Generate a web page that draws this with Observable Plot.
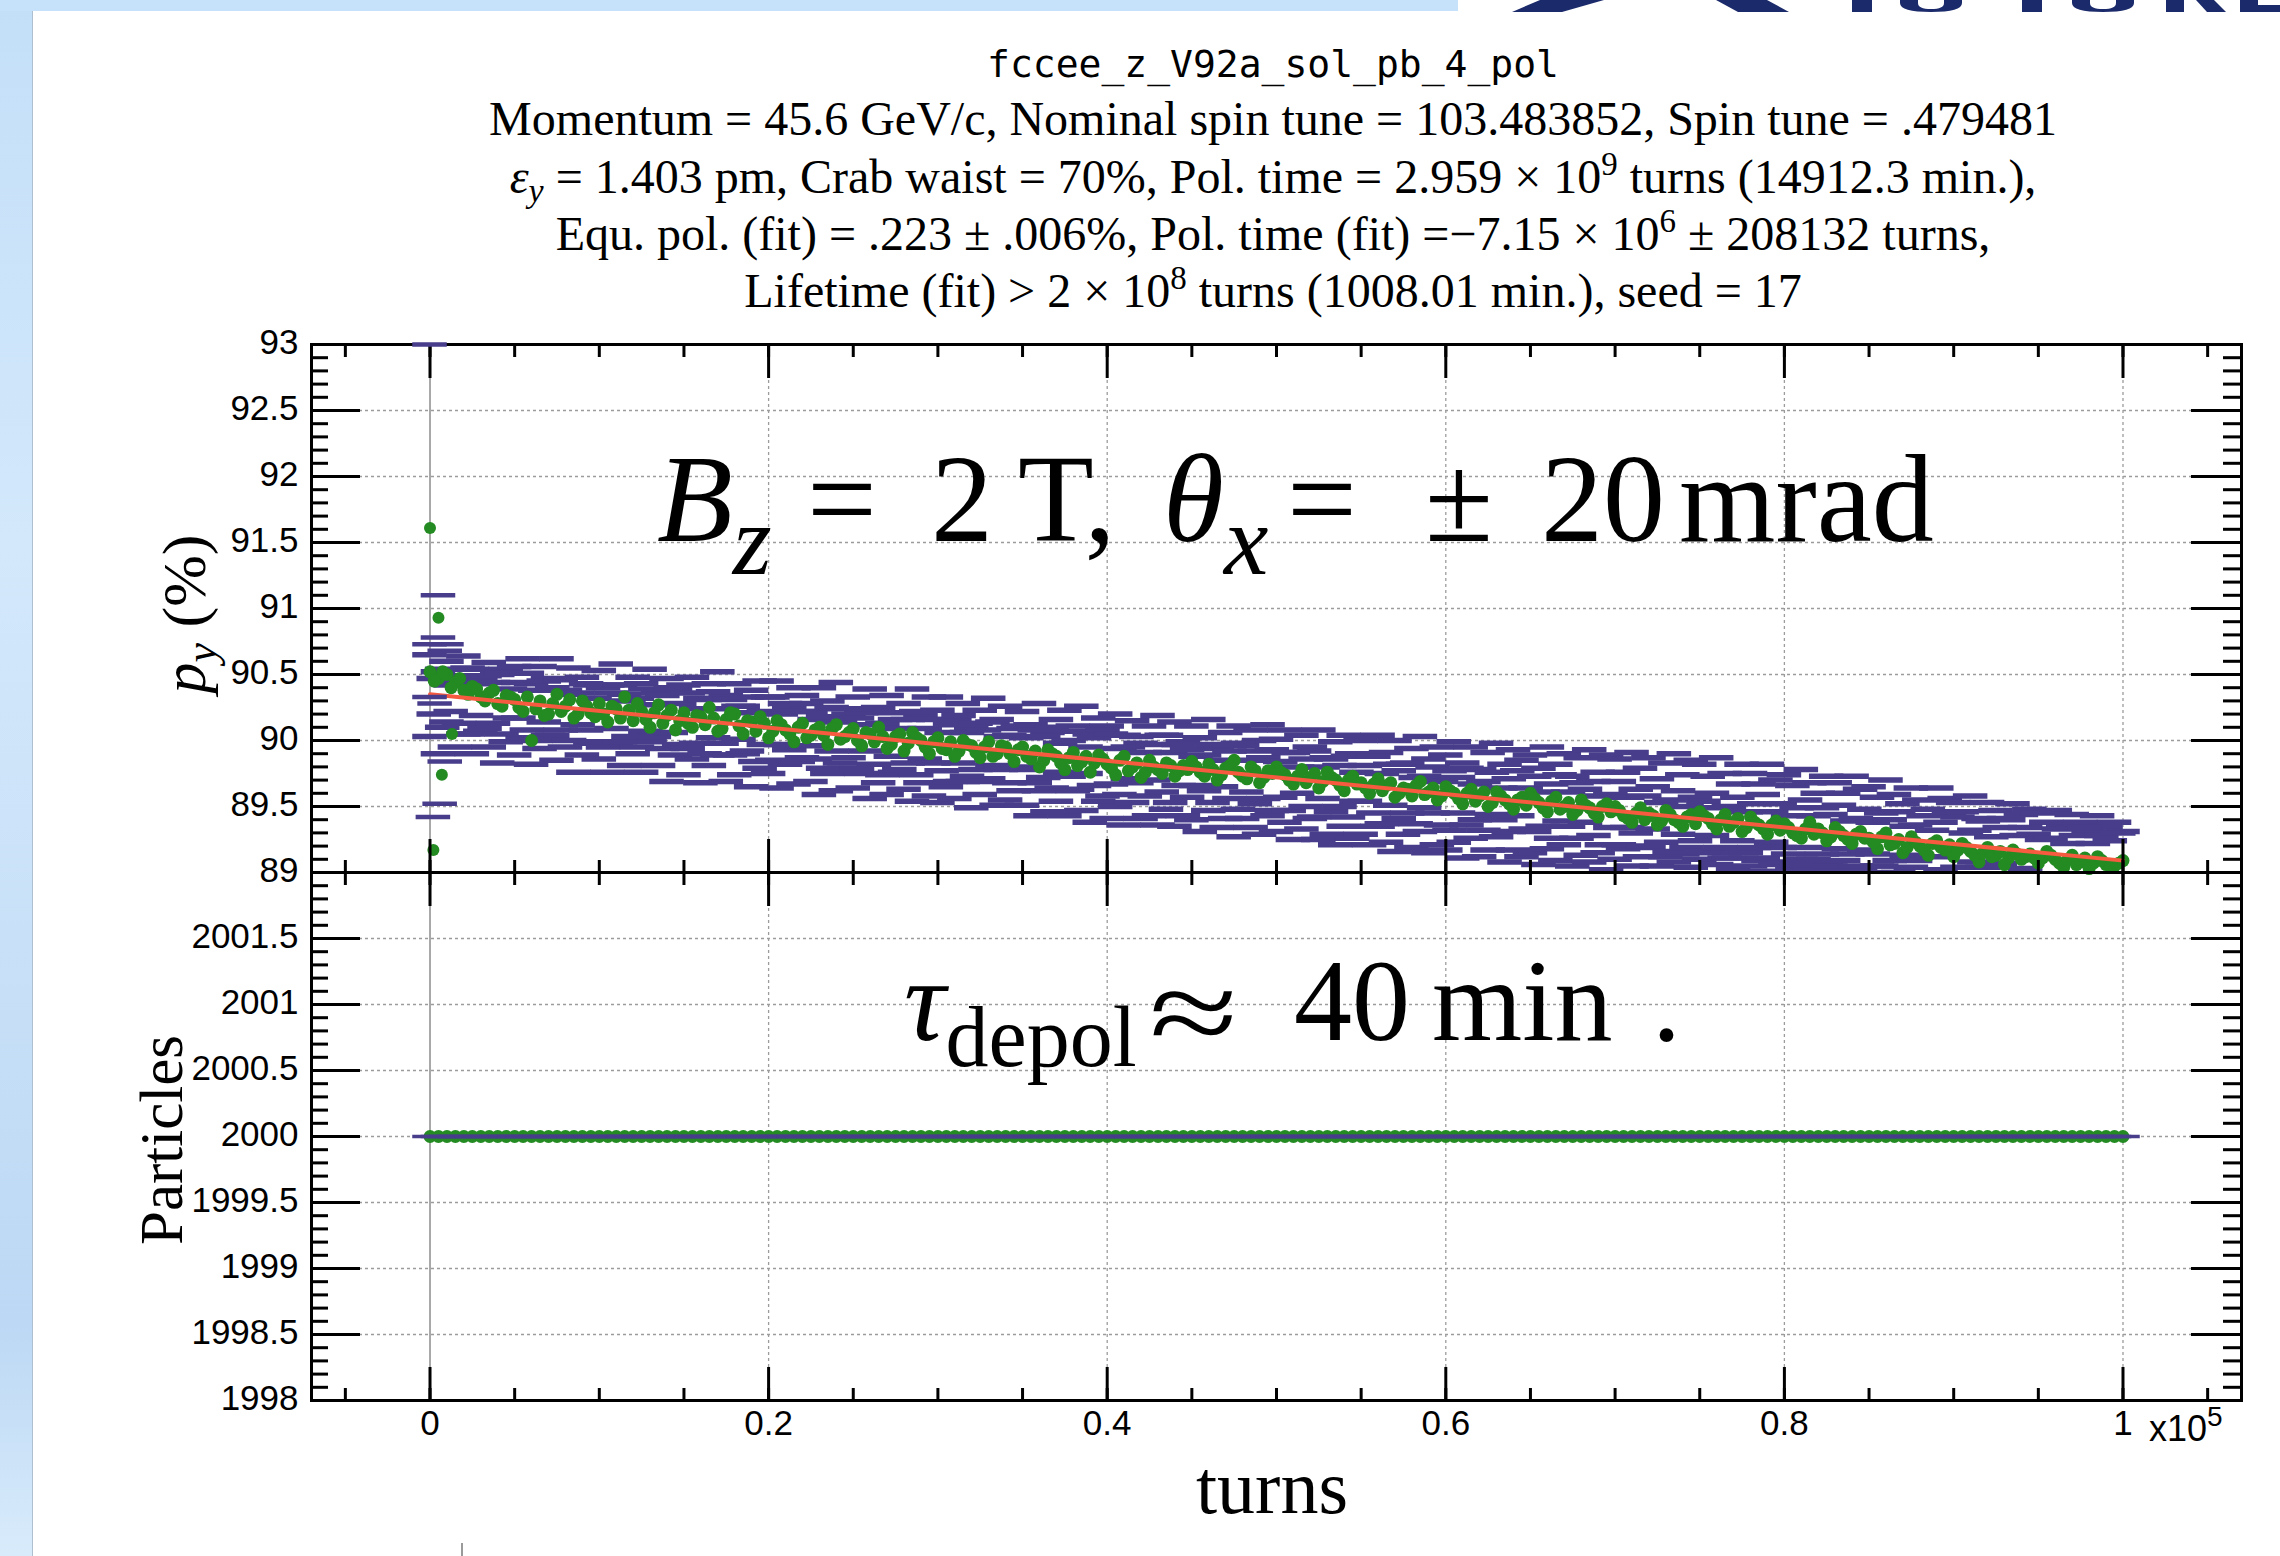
<!DOCTYPE html>
<html>
<head>
<meta charset="utf-8">
<script src="https://cdn.jsdelivr.net/npm/d3@7"></script>
<script src="https://cdn.jsdelivr.net/npm/@observablehq/plot@0.6"></script>
<style>
  html, body { margin: 0; padding: 0; background: #ffffff; }
  #page { position: relative; width: 2280px; height: 1556px; overflow: hidden; background: #ffffff; }
  #page > svg, #page > div { position: absolute; left: 0; top: 0; }
</style>
</head>
<body>
<div id="page">
  <div style="width:32px;height:1556px;background:linear-gradient(to bottom,#c3dff8 0%,#d3e8fb 35%,#c9e1f8 60%,#bcd8f4 85%,#d8ebfb 100%);border-right:1px solid #aebfd0;"></div>
  <div style="width:1458px;height:11px;background:#c6e2fb;"></div>
  <svg width="2280" height="16">
    <g fill="#1b2a6b">
      <polygon points="1540,0 1604,0 1562,12 1512,12"/>
      <polygon points="1716,0 1767,0 1789,12 1738,12"/>
      <rect x="1852" y="0" width="20" height="12"/>
      <path d="M1900,0 h18 v3 q0,6 13,6 q13,0 13,-6 v-3 h18 v3 q0,9 -31,9 q-31,0 -31,-9 z"/>
      <rect x="2022" y="0" width="20" height="12"/>
      <path d="M2072,0 h18 v3 q0,6 13,6 q13,0 13,-6 v-3 h18 v3 q0,9 -31,9 q-31,0 -31,-9 z"/>
      <rect x="2166" y="0" width="18" height="12"/>
      <polygon points="2196,0 2214,0 2226,12 2207,12"/>
      <rect x="2240" y="0" width="18" height="12"/>
      <rect x="2240" y="5" width="40" height="7"/>
    </g>
  </svg>
  <div style="left:461px;top:1543px;width:2px;height:13px;background:#9a9a9a;"></div>
</div>
<script>
// ---------------- data ----------------
const turns = [
  0,500,1000,1500,2000,2500,3000,3500,4000,4500,
  5000,5500,6000,6500,7000,7500,8000,8500,9000,9500,
  10000,10500,11000,11500,12000,12500,13000,13500,14000,14500,
  15000,15500,16000,16500,17000,17500,18000,18500,19000,19500,
  20000,20500,21000,21500,22000,22500,23000,23500,24000,24500,
  25000,25500,26000,26500,27000,27500,28000,28500,29000,29500,
  30000,30500,31000,31500,32000,32500,33000,33500,34000,34500,
  35000,35500,36000,36500,37000,37500,38000,38500,39000,39500,
  40000,40500,41000,41500,42000,42500,43000,43500,44000,44500,
  45000,45500,46000,46500,47000,47500,48000,48500,49000,49500,
  50000,50500,51000,51500,52000,52500,53000,53500,54000,54500,
  55000,55500,56000,56500,57000,57500,58000,58500,59000,59500,
  60000,60500,61000,61500,62000,62500,63000,63500,64000,64500,
  65000,65500,66000,66500,67000,67500,68000,68500,69000,69500,
  70000,70500,71000,71500,72000,72500,73000,73500,74000,74500,
  75000,75500,76000,76500,77000,77500,78000,78500,79000,79500,
  80000,80500,81000,81500,82000,82500,83000,83500,84000,84500,
  85000,85500,86000,86500,87000,87500,88000,88500,89000,89500,
  90000,90500,91000,91500,92000,92500,93000,93500,94000,94500,
  95000,95500,96000,96500,97000,97500,98000,98500,99000,99500,
  100000
];
const turnsHalf = [
  250,750,1250,1750,2250,2750,3250,3750,4250,4750,
  5250,5750,6250,6750,7250,7750,8250,8750,9250,9750,
  10250,10750,11250,11750,12250,12750,13250,13750,14250,14750,
  15250,15750,16250,16750,17250,17750,18250,18750,19250,19750,
  20250,20750,21250,21750,22250,22750,23250,23750,24250,24750,
  25250,25750,26250,26750,27250,27750,28250,28750,29250,29750,
  30250,30750,31250,31750,32250,32750,33250,33750,34250,34750,
  35250,35750,36250,36750,37250,37750,38250,38750,39250,39750,
  40250,40750,41250,41750,42250,42750,43250,43750,44250,44750,
  45250,45750,46250,46750,47250,47750,48250,48750,49250,49750,
  50250,50750,51250,51750,52250,52750,53250,53750,54250,54750,
  55250,55750,56250,56750,57250,57750,58250,58750,59250,59750,
  60250,60750,61250,61750,62250,62750,63250,63750,64250,64750,
  65250,65750,66250,66750,67250,67750,68250,68750,69250,69750,
  70250,70750,71250,71750,72250,72750,73250,73750,74250,74750,
  75250,75750,76250,76750,77250,77750,78250,78750,79250,79750,
  80250,80750,81250,81750,82250,82750,83250,83750,84250,84750,
  85250,85750,86250,86750,87250,87750,88250,88750,89250,89750,
  90250,90750,91250,91750,92250,92750,93250,93750,94250,94750,
  95250,95750,96250,96750,97250,97750,98250,98750,99250,99750
];

// polarization p_y (%) (green markers), at turns and at turnsHalf
const pyGreen = [
  90.52,90.47,90.50,90.44,90.38,90.41,90.33,90.36,90.28,90.34,
  90.31,90.22,90.00,90.30,90.20,90.35,90.26,90.17,90.30,90.21,
  90.28,90.14,90.24,90.33,90.15,90.22,90.10,90.27,90.19,90.08,
  90.21,90.10,90.18,90.25,90.07,90.16,90.20,90.05,90.14,90.18,
  90.02,90.15,90.08,89.99,90.13,90.04,90.10,89.97,90.12,90.03,
  90.09,89.96,90.05,90.10,89.94,90.03,89.92,90.06,90.00,89.90,
  90.02,89.93,89.88,90.00,89.96,89.87,89.99,89.90,89.95,89.84,
  89.95,89.86,89.80,89.93,89.88,89.78,89.91,89.84,89.76,89.89,
  89.82,89.74,89.88,89.80,89.72,89.85,89.78,89.83,89.73,89.81,
  89.84,89.76,89.82,89.70,89.79,89.85,89.73,89.80,89.68,89.77,
  89.80,89.74,89.67,89.78,89.72,89.64,89.76,89.70,89.62,89.73,
  89.68,89.60,89.71,89.66,89.57,89.64,89.58,89.69,89.61,89.55,
  89.65,89.60,89.52,89.63,89.58,89.50,89.61,89.55,89.48,89.57,
  89.60,89.53,89.46,89.57,89.50,89.44,89.55,89.49,89.42,89.52,
  89.50,89.43,89.38,89.49,89.45,89.36,89.47,89.40,89.35,89.44,
  89.46,89.41,89.33,89.44,89.38,89.31,89.42,89.36,89.29,89.39,
  89.37,89.30,89.26,89.38,89.33,89.24,89.34,89.28,89.22,89.31,
  89.26,89.18,89.30,89.22,89.15,89.27,89.20,89.13,89.24,89.17,
  89.12,89.22,89.16,89.08,89.19,89.13,89.06,89.17,89.10,89.14,
  89.07,89.16,89.10,89.04,89.13,89.08,89.03,89.12,89.06,89.05,
  89.09
];
const pyGreenHalf = [
  90.45,90.52,90.40,90.47,90.35,90.39,90.30,90.38,90.26,90.33,
  90.25,90.33,90.24,90.19,90.28,90.22,90.31,90.20,90.26,90.18,
  90.20,90.26,90.17,90.23,90.28,90.16,90.21,90.13,90.23,90.15,
  90.13,90.19,90.12,90.17,90.09,90.21,90.11,90.15,90.07,90.13,
  90.07,90.12,90.05,90.10,90.02,90.08,90.04,90.09,90.01,90.06,
  90.00,90.06,89.99,90.03,89.97,90.05,89.98,90.02,89.95,89.99,
  89.94,89.99,89.92,89.97,89.91,89.95,89.88,89.96,89.90,89.93,
  89.88,89.92,89.85,89.90,89.83,89.87,89.81,89.88,89.83,89.86,
  89.79,89.85,89.77,89.83,89.76,89.80,89.75,89.81,89.77,89.78,
  89.80,89.73,89.78,89.74,89.81,89.76,89.71,89.77,89.72,89.75,
  89.76,89.70,89.73,89.68,89.75,89.69,89.72,89.66,89.70,89.67,
  89.64,89.67,89.62,89.68,89.60,89.63,89.66,89.59,89.64,89.58,
  89.62,89.56,89.60,89.54,89.61,89.53,89.58,89.52,89.55,89.51,
  89.56,89.49,89.54,89.48,89.53,89.47,89.51,89.45,89.50,89.46,
  89.47,89.41,89.45,89.40,89.43,89.39,89.44,89.38,89.42,89.37,
  89.43,89.37,89.40,89.35,89.41,89.34,89.38,89.33,89.36,89.32,
  89.34,89.28,89.33,89.29,89.30,89.27,89.31,89.25,89.29,89.26,
  89.23,89.27,89.21,89.25,89.19,89.23,89.17,89.22,89.19,89.21,
  89.17,89.19,89.13,89.15,89.12,89.16,89.11,89.14,89.12,89.11,
  89.11,89.13,89.07,89.10,89.06,89.11,89.07,89.09,89.05,89.07
];

// error-bar caps (purple): upper and lower, at turns and at turnsHalf
const capUpper = [
  90.65,90.52,90.60,90.45,90.64,90.54,90.46,90.59,90.50,90.54,
  90.56,90.62,90.43,90.56,90.47,90.62,90.38,90.55,90.48,90.42,
  90.53,90.42,90.58,90.35,90.48,90.43,90.54,90.36,90.47,90.39,
  90.42,90.48,90.32,90.43,90.52,90.34,90.43,90.26,90.38,90.45,
  90.33,90.45,90.28,90.40,90.34,90.22,90.40,90.30,90.44,90.24,
  90.33,90.21,90.39,90.25,90.34,90.16,90.28,90.39,90.19,90.33,
  90.23,90.33,90.16,90.28,90.10,90.23,90.32,90.16,90.26,90.09,
  90.22,90.12,90.28,90.06,90.16,90.23,90.11,90.26,90.05,90.17,
  90.11,90.20,90.04,90.15,89.98,90.11,90.19,90.04,90.14,89.99,
  90.11,90.02,90.16,89.94,90.06,90.11,89.96,90.08,90.00,90.12,
  90.01,90.08,89.91,90.04,89.95,90.08,89.87,89.99,90.04,89.90,
  90.00,89.88,90.04,89.91,90.00,89.82,89.94,90.03,89.86,89.95,
  89.89,89.99,89.83,89.95,89.78,89.91,89.98,89.82,89.93,89.85,
  89.89,89.79,89.95,89.82,89.90,89.73,89.87,89.93,89.76,89.89,
  89.86,89.76,89.91,89.79,89.87,89.71,89.83,89.90,89.74,89.85,
  89.82,89.73,89.87,89.75,89.67,89.82,89.75,89.67,89.82,89.70,
  89.74,89.66,89.78,89.68,89.60,89.73,89.68,89.60,89.73,89.63,
  89.65,89.57,89.70,89.59,89.52,89.64,89.55,89.48,89.64,89.56,
  89.53,89.46,89.58,89.41,89.53,89.47,89.41,89.52,89.44,89.48,
  89.45,89.38,89.47,89.34,89.44,89.38,89.31,89.43,89.35,89.38,
  89.31
];
const capLower = [
  90.03,89.90,90.14,89.95,90.05,89.90,90.07,89.95,89.83,89.99,
  89.89,90.02,89.82,89.94,90.04,89.85,89.95,89.76,89.89,89.98,
  89.86,89.76,89.97,89.81,89.90,89.76,89.99,89.81,89.69,89.89,
  89.74,89.86,89.68,89.81,89.89,89.69,89.74,89.90,89.65,89.79,
  89.75,89.64,89.82,89.67,89.87,89.69,89.59,89.75,89.62,89.79,
  89.64,89.75,89.56,89.68,89.59,89.76,89.63,89.54,89.68,89.58,
  89.53,89.65,89.56,89.69,89.49,89.59,89.71,89.51,89.55,89.62,
  89.51,89.43,89.62,89.46,89.54,89.43,89.62,89.47,89.38,89.54,
  89.41,89.50,89.36,89.53,89.41,89.43,89.36,89.48,89.35,89.43,
  89.40,89.31,89.47,89.34,89.41,89.27,89.41,89.34,89.29,89.43,
  89.31,89.38,89.25,89.33,89.41,89.25,89.29,89.21,89.35,89.26,
  89.29,89.21,89.35,89.23,89.16,89.29,89.19,89.31,89.15,89.21,
  89.17,89.23,89.11,89.26,89.12,89.17,89.27,89.08,89.17,89.12,
  89.15,89.06,89.18,89.09,89.21,89.05,89.13,89.08,89.15,89.02,
  89.10,89.18,89.05,89.12,89.19,89.05,89.12,89.08,89.14,89.04,
  89.10,89.15,89.06,89.11,89.02,89.15,89.05,89.09,89.01,89.06,
  89.08,89.02,89.10,89.03,88.98,89.06,89.02,89.09,88.98,89.03,
  88.99,89.05,88.95,89.00,88.91,89.04,88.94,88.99,88.89,88.94,
  88.95,88.88,88.97,88.89,88.91,88.83,88.92,88.85,88.88,88.91,
  88.87,88.81,88.88,88.83,88.86,88.79,88.84,88.76,88.81,88.78,
  88.82
];
const capUpperHalf = [
  90.47,90.54,90.42,90.49,90.55,90.43,90.49,90.44,90.51,90.39,
  90.44,90.51,90.38,90.45,90.40,90.46,90.35,90.36,90.43,90.32,
  90.40,90.36,90.42,90.30,90.32,90.39,90.27,90.34,90.40,90.28,
  90.36,90.24,90.31,90.37,90.24,90.31,90.26,90.33,90.21,90.22,
  90.33,90.20,90.26,90.22,90.28,90.16,90.18,90.25,90.14,90.20,
  90.17,90.24,90.12,90.13,90.21,90.09,90.16,90.22,90.09,90.16,
  90.06,90.12,90.19,90.06,90.13,90.08,90.14,90.03,90.04,90.11,
  90.02,90.08,90.03,90.10,89.98,90.00,90.07,89.95,90.02,90.08,
  90.05,89.94,89.95,90.03,89.91,89.97,90.04,89.91,89.97,89.93,
  89.88,89.89,89.97,89.85,89.92,89.98,89.85,89.92,89.87,89.93,
  89.84,89.91,89.80,89.86,89.92,89.80,89.86,89.81,89.88,89.76,
  89.81,89.88,89.75,89.82,89.77,89.83,89.72,89.73,89.80,89.69,
  89.77,89.72,89.79,89.67,89.69,89.76,89.64,89.71,89.77,89.64,
  89.73,89.61,89.67,89.74,89.61,89.68,89.63,89.69,89.58,89.59,
  89.69,89.57,89.63,89.58,89.65,89.53,89.55,89.62,89.50,89.57,
  89.54,89.60,89.49,89.50,89.57,89.46,89.52,89.59,89.46,89.52,
  89.43,89.49,89.55,89.43,89.49,89.44,89.51,89.39,89.41,89.48,
  89.38,89.45,89.40,89.46,89.35,89.36,89.43,89.32,89.38,89.45,
  89.42,89.30,89.32,89.39,89.27,89.34,89.40,89.28,89.34,89.29,
  89.25,89.26,89.33,89.22,89.28,89.34,89.22,89.28,89.24,89.30
];
const capLowerHalf = [
  90.20,90.10,90.22,90.13,90.05,90.19,90.09,90.13,90.05,90.17,
  90.17,90.08,90.00,90.14,90.04,90.08,90.00,90.12,90.08,89.99,
  89.95,90.09,89.99,90.03,89.95,90.07,90.03,89.94,90.06,89.97,
  89.94,89.98,89.90,90.02,89.98,89.89,90.01,89.92,89.84,89.97,
  89.85,89.97,89.93,89.84,89.96,89.86,89.79,89.92,89.83,89.87,
  89.79,89.92,89.82,89.74,89.88,89.78,89.83,89.74,89.86,89.83,
  89.77,89.69,89.83,89.73,89.78,89.69,89.81,89.78,89.68,89.80,
  89.78,89.68,89.72,89.64,89.76,89.73,89.63,89.75,89.66,89.58,
  89.67,89.59,89.71,89.68,89.58,89.70,89.61,89.53,89.66,89.57,
  89.66,89.62,89.53,89.65,89.56,89.48,89.61,89.52,89.56,89.47,
  89.57,89.47,89.60,89.50,89.42,89.56,89.46,89.50,89.42,89.54,
  89.54,89.45,89.37,89.51,89.41,89.45,89.37,89.49,89.45,89.36,
  89.32,89.45,89.36,89.40,89.32,89.44,89.40,89.31,89.43,89.33,
  89.31,89.35,89.26,89.39,89.35,89.26,89.38,89.28,89.21,89.34,
  89.21,89.34,89.30,89.20,89.33,89.23,89.16,89.29,89.19,89.24,
  89.16,89.28,89.19,89.11,89.24,89.15,89.19,89.11,89.23,89.19,
  89.14,89.06,89.19,89.10,89.14,89.05,89.18,89.14,89.05,89.17,
  89.14,89.05,89.09,89.00,89.13,89.09,88.99,89.12,89.02,88.95,
  89.04,88.95,89.08,89.04,88.94,89.07,88.97,88.90,89.03,88.93,
  88.96,88.93,88.89,88.95,88.92,88.84,88.91,88.88,88.93,88.84
];

// particle count (bottom panel)
const particles = [
  2000,2000,2000,2000,2000,2000,2000,2000,2000,2000,
  2000,2000,2000,2000,2000,2000,2000,2000,2000,2000,
  2000,2000,2000,2000,2000,2000,2000,2000,2000,2000,
  2000,2000,2000,2000,2000,2000,2000,2000,2000,2000,
  2000,2000,2000,2000,2000,2000,2000,2000,2000,2000,
  2000,2000,2000,2000,2000,2000,2000,2000,2000,2000,
  2000,2000,2000,2000,2000,2000,2000,2000,2000,2000,
  2000,2000,2000,2000,2000,2000,2000,2000,2000,2000,
  2000,2000,2000,2000,2000,2000,2000,2000,2000,2000,
  2000,2000,2000,2000,2000,2000,2000,2000,2000,2000,
  2000,2000,2000,2000,2000,2000,2000,2000,2000,2000,
  2000,2000,2000,2000,2000,2000,2000,2000,2000,2000,
  2000,2000,2000,2000,2000,2000,2000,2000,2000,2000,
  2000,2000,2000,2000,2000,2000,2000,2000,2000,2000,
  2000,2000,2000,2000,2000,2000,2000,2000,2000,2000,
  2000,2000,2000,2000,2000,2000,2000,2000,2000,2000,
  2000,2000,2000,2000,2000,2000,2000,2000,2000,2000,
  2000,2000,2000,2000,2000,2000,2000,2000,2000,2000,
  2000,2000,2000,2000,2000,2000,2000,2000,2000,2000,
  2000,2000,2000,2000,2000,2000,2000,2000,2000,2000,
  2000
];

// scattered first samples
const earlyTurns = [0, 200, 500, 700, 1300];
const earlyPy = [91.61, 89.17, 90.93, 89.74, 90.05];
const earlyCapTurns = [0, 500, 500, 0, 1000, 900, 0, 300, 900, 600, 200];
const earlyCapPy = [93.0, 91.10, 90.78, 90.73, 90.73, 90.68, 90.33, 90.28, 89.84, 89.52, 89.42];

// fit curve
const fitTurns = [0, 100000];
const fitPy = [90.35, 89.09];

// axis ticks / labels
const xMajorTicks = [0, 20000, 40000, 60000, 80000, 100000];
const xGridTicks = [20000, 40000, 60000, 80000, 100000];
const pyTicks = [89, 89.5, 90, 90.5, 91, 91.5, 92, 92.5, 93];
const pyGridTicks = [89.5, 90, 90.5, 91, 91.5, 92, 92.5];
const nTicks = [1998, 1998.5, 1999, 1999.5, 2000, 2000.5, 2001, 2001.5, 2002];
const nTickLabels = [1998, 1998.5, 1999, 1999.5, 2000, 2000.5, 2001, 2001.5];
const nGridTicks = [1998.5, 1999, 1999.5, 2000, 2000.5, 2001, 2001.5];

// texts
const titleName = "fccee_z_V92a_sol_pb_4_pol";
const titleLine2 = "Momentum = 45.6 GeV/c, Nominal spin tune = 103.483852, Spin tune = .479481";
const titleLine3a = " = 1.403 pm, Crab waist = 70%, Pol. time = 2.959 × 10";
const titleLine3b = " turns (14912.3 min.),";
const titleLine4a = "Equ. pol. (fit) = .223 ± .006%, Pol. time (fit) =−7.15 × 10";
const titleLine4b = " ± 208132 turns,";
const titleLine5a = "Lifetime (fit) > 2 × 10";
const titleLine5b = " turns (1008.01 min.), seed = 17";

// ---------------- styling / layout ----------------
const W = 2280, H = 1556;
const FL = 311, FR = 2241, FW = FR - FL;
const TOP_Y0 = 344, MID_Y = 872, BOT_Y1 = 1400, PH = 528;
const GREEN = "#238b22", PURPLE = "#473d8a", RED = "#f65a3f", GRID = "#9c9c9c";
const SERIF = "'Liberation Serif', 'Times New Roman', serif";
const SANS = "'Liberation Sans', Arial, Helvetica, sans-serif";
const MONO = "'DejaVu Sans Mono', monospace";
const CAP = 1020; // half width of error-bar caps, in turns

const xMinorTicks = d3.range(-5000, 105001, 5000);
const pyMinor = d3.range(0, 41).map(i => 89 + i / 10);
const nMinor = d3.range(0, 41).map(i => 1998 + i / 10);

function gridMarks(yGrid) {
  return [
    Plot.ruleY(yGrid, {stroke: GRID, strokeWidth: 1.3, strokeDasharray: "3,3"}),
    Plot.ruleX(xGridTicks, {stroke: GRID, strokeWidth: 1.3, strokeDasharray: "3,3"}),
    Plot.ruleX([0], {stroke: "#8c8c8c", strokeWidth: 1.5})
  ];
}
function frameMarks(yMajor, yMinor, yLabels) {
  const k = {stroke: "#000", strokeWidth: 3};
  return [
    Plot.frame({stroke: "#000", strokeWidth: 3}),
    Plot.tickY(yMajor, {...k, insetRight: FW - 49}),
    Plot.tickY(yMinor, {...k, insetRight: FW - 17}),
    Plot.tickY(yMajor, {...k, insetLeft: FW - 50}),
    Plot.tickY(yMinor, {...k, insetLeft: FW - 18}),
    Plot.tickX(xMajorTicks, {...k, insetBottom: PH - 34}),
    Plot.tickX(xMinorTicks, {...k, insetBottom: PH - 13}),
    Plot.tickX(xMajorTicks, {...k, insetTop: PH - 33}),
    Plot.tickX(xMinorTicks, {...k, insetTop: PH - 12}),
    Plot.axisY({ticks: yLabels, tickFormat: d => String(d), tickSize: 0, tickPadding: 13,
      fontSize: 35, fontFamily: SANS, dy: -2, label: null, fill: "#000"})
  ];
}

const mainPts = turns.map((t, i) => ({t, py: pyGreen[i]}))
  .concat(turnsHalf.map((t, i) => ({t, py: pyGreenHalf[i]})));
const earlyPts = earlyTurns.map((t, i) => ({t, py: earlyPy[i]}));
const caps = turns.flatMap((t, i) => [{t, py: capUpper[i]}, {t, py: capLower[i]}])
  .concat(turnsHalf.flatMap((t, i) => [{t, py: capUpperHalf[i]}, {t, py: capLowerHalf[i]}]));
const earlyCaps = earlyCapTurns.map((t, i) => ({t, py: earlyCapPy[i]}));
const fit = fitTurns.map((t, i) => ({t, py: fitPy[i]}));
const partPts = turns.map((t, i) => ({t, n: particles[i]}));

const topPlot = Plot.plot({
  width: W, height: H,
  marginLeft: FL, marginRight: W - FR, marginTop: TOP_Y0, marginBottom: H - MID_Y,
  x: {domain: [-7000, 107000], axis: null},
  y: {domain: [89, 93]},
  style: {background: "transparent"},
  marks: [
    ...gridMarks(pyGridTicks),
    Plot.ruleY(caps, {y: "py", x1: d => d.t - CAP, x2: d => d.t + CAP, stroke: PURPLE, strokeWidth: 5.5, clip: true}),
    Plot.dot(mainPts, {x: "t", y: "py", r: 6.5, fill: GREEN}),
    Plot.dot(earlyPts, {x: "t", y: "py", r: 6, fill: GREEN}),
    Plot.line(fit, {x: "t", y: "py", stroke: RED, strokeWidth: 4}),
    ...frameMarks(pyTicks, pyMinor, pyTicks),
    Plot.ruleY(earlyCaps, {y: "py", x1: d => d.t - CAP, x2: d => d.t + CAP, stroke: PURPLE, strokeWidth: 4.5})
  ]
});

const botPlot = Plot.plot({
  width: W, height: H,
  marginLeft: FL, marginRight: W - FR, marginTop: MID_Y, marginBottom: H - BOT_Y1,
  x: {domain: [-7000, 107000]},
  y: {domain: [1998, 2002]},
  style: {background: "transparent"},
  marks: [
    ...gridMarks(nGridTicks),
    Plot.dot(partPts, {x: "t", y: "n", r: 6.5, fill: GREEN}),
    Plot.ruleY(partPts, {y: "n", x1: d => d.t - CAP, x2: d => d.t + CAP, stroke: PURPLE, strokeWidth: 3.5}),
    ...frameMarks(nTicks, nMinor, nTickLabels),
    Plot.axisX({ticks: xMajorTicks, tickFormat: d => String(d / 1e5), tickSize: 0, tickPadding: 10,
      fontSize: 35, fontFamily: SANS, label: null, fill: "#000"})
  ]
});

const page = document.getElementById("page");
page.appendChild(topPlot);
page.appendChild(botPlot);

// ---------------- text overlay ----------------
const ov = d3.select(page).append("svg")
  .attr("width", W).attr("height", H)
  .style("white-space", "pre")
  .attr("font-family", SERIF).attr("fill", "#000");

function addText(opts, parts) {
  const t = ov.append("text")
    .attr("font-size", opts.size)
    .attr("text-anchor", opts.anchor ?? "start");
  if (opts.x != null) t.attr("x", opts.x);
  if (opts.y != null) t.attr("y", opts.y);
  if (opts.family) t.attr("font-family", opts.family);
  if (opts.transform) t.attr("transform", opts.transform);
  for (const p of parts) {
    const s = t.append("tspan").text(p.t);
    if (p.i) s.attr("font-style", "italic");
    if (p.size) s.attr("font-size", p.size);
    if (p.dy) s.attr("dy", p.dy);
    if (p.x != null) s.attr("x", p.x);
    if (p.y != null) s.attr("y", p.y);
  }
  return t;
}

const CX = 1273;
addText({x: CX, y: 77, size: 38, anchor: "middle", family: MONO}, [{t: titleName}]);
addText({x: CX, y: 135, size: 48, anchor: "middle"}, [{t: titleLine2}]);
addText({x: CX, y: 193, size: 48, anchor: "middle"}, [
  {t: "ε", i: true}, {t: "y", i: true, size: 34, dy: 9}, {t: titleLine3a, dy: -9},
  {t: "9", size: 33, dy: -18}, {t: titleLine3b, dy: 18}
]);
addText({x: CX, y: 250, size: 48, anchor: "middle"}, [
  {t: titleLine4a}, {t: "6", size: 33, dy: -18}, {t: titleLine4b, dy: 18}
]);
addText({x: CX, y: 307, size: 48, anchor: "middle"}, [
  {t: titleLine5a}, {t: "8", size: 33, dy: -18}, {t: titleLine5b, dy: 18}
]);

// in-plot annotations
addText({size: 124}, [
  {t: "B", i: true, x: 657, y: 541}, {t: "z", i: true, size: 100, y: 574},
  {t: "=", x: 807, y: 541}, {t: "2", x: 931}, {t: "T,", x: 1018},
  {t: "θ", i: true, x: 1163}, {t: "x", i: true, size: 100, y: 574},
  {t: "=", x: 1287, y: 541}, {t: "±", x: 1425}, {t: "20", x: 1541}, {t: "mrad", x: 1679}
]);
addText({size: 116}, [
  {t: "τ", i: true, x: 904, y: 1040}, {t: "depol", size: 86, y: 1066},
  {t: "40", x: 1294, y: 1040}, {t: "min", x: 1432}, {t: ".", x: 1652}
]);
addText({size: 120, transform: "translate(1149,1053) scale(1.35,1)"}, [{t: "≈"}]);

// axis titles
addText({size: 62, anchor: "middle", transform: "translate(205,614) rotate(-90)"}, [
  {t: "p", i: true}, {t: "y", i: true, size: 44, dy: 11}, {t: " (%)", dy: -11}
]);
addText({size: 61, anchor: "middle", transform: "translate(182,1140) rotate(-90)"}, [{t: "Particles"}]);
addText({x: 1272, y: 1513, size: 76, anchor: "middle"}, [{t: "turns"}]);
addText({x: 2149, y: 1441, size: 36, family: SANS}, [{t: "x10"}, {t: "5", size: 28, dy: -15}]);
</script>
</body>
</html>
